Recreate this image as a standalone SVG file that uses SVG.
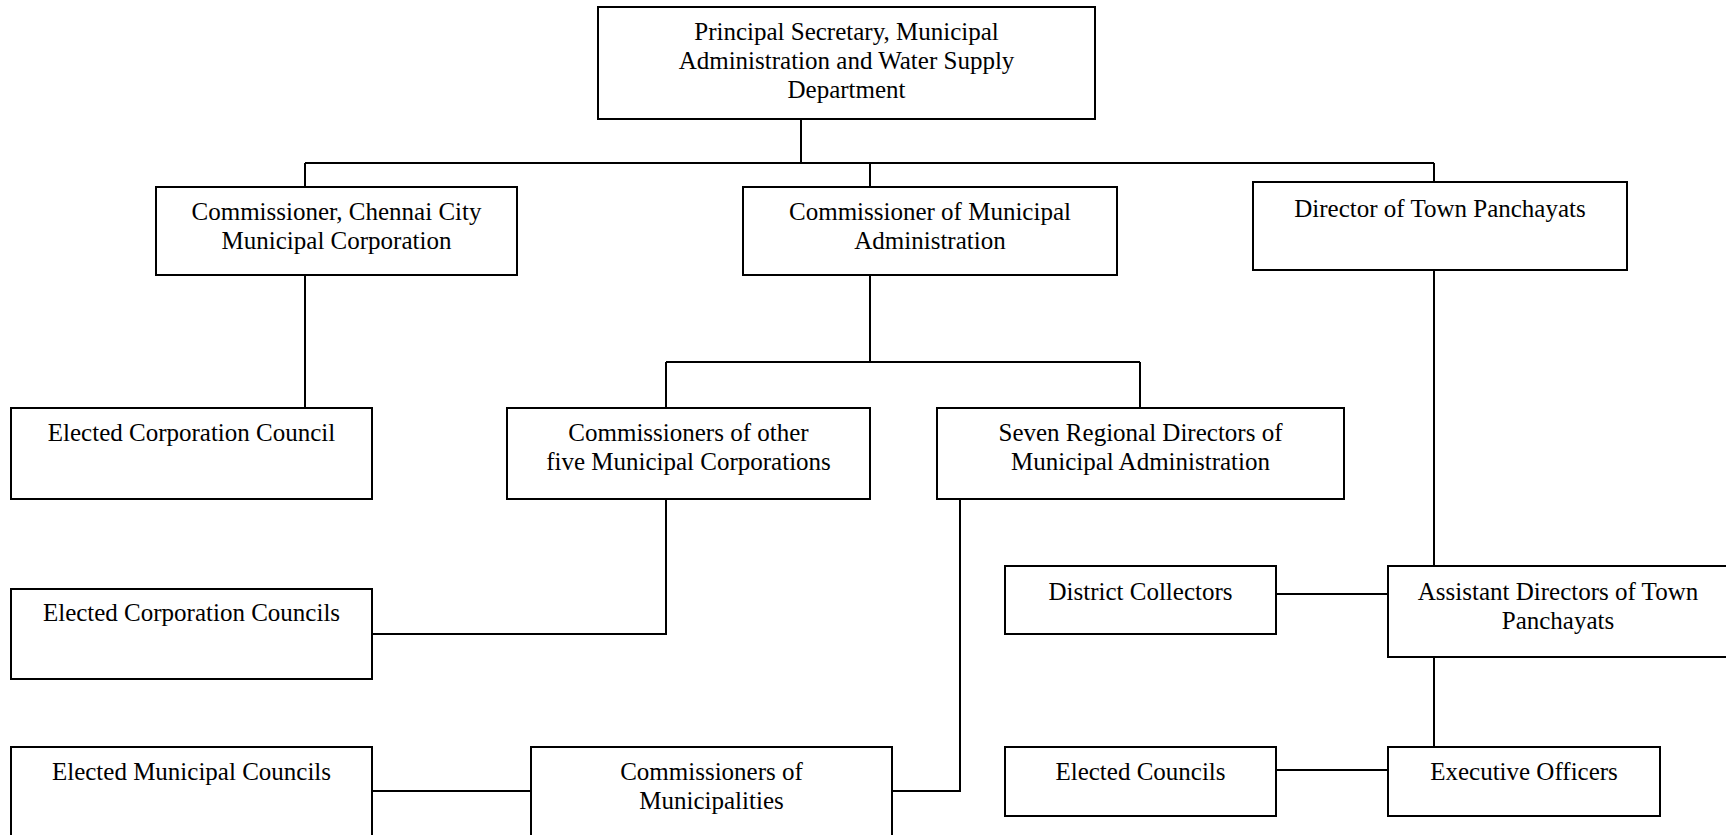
<svg xmlns="http://www.w3.org/2000/svg" width="1726" height="835" viewBox="0 0 1726 835">
<style>
.box{fill:#fff;stroke:#000;stroke-width:2}
.ln{fill:none;stroke:#000;stroke-width:2}
text{font-family:"Liberation Serif","Times New Roman",serif;font-size:25px;fill:#000;text-anchor:middle}
</style>
<rect width="1726" height="835" fill="#fff"/>
<g id="connectors">
<path class="ln" d="M801 119V163M305 163H1434M305 163V187M870 163V187M1434 163V182"/>
<path class="ln" d="M305 275V408"/>
<path class="ln" d="M870 275V362M666 362H1140M666 362V408M1140 362V408"/>
<path class="ln" d="M666 499V634H372"/>
<path class="ln" d="M960 499V791H892"/>
<path class="ln" d="M372 791H531"/>
<path class="ln" d="M1434 270V566"/>
<path class="ln" d="M1276 594H1388"/>
<path class="ln" d="M1434 657V747"/>
<path class="ln" d="M1276 770H1388"/>
</g>
<g id="n-principal"><rect class="box" x="598" y="7" width="497" height="112"/>
<text x="846.5" y="40">Principal Secretary, Municipal</text>
<text x="846.5" y="69">Administration and Water Supply</text>
<text x="846.5" y="98">Department</text></g>
<g id="n-chennai"><rect class="box" x="156" y="187" width="361" height="88"/>
<text x="336.5" y="220">Commissioner, Chennai City</text>
<text x="336.5" y="249">Municipal Corporation</text></g>
<g id="n-cma"><rect class="box" x="743" y="187" width="374" height="88"/>
<text x="930" y="220">Commissioner of Municipal</text>
<text x="930" y="249">Administration</text></g>
<g id="n-director"><rect class="box" x="1253" y="182" width="374" height="88"/>
<text x="1440" y="217">Director of Town Panchayats</text></g>
<g id="n-ecc"><rect class="box" x="11" y="408" width="361" height="91"/>
<text x="191.5" y="441">Elected Corporation Council</text></g>
<g id="n-other5"><rect class="box" x="507" y="408" width="363" height="91"/>
<text x="688.5" y="441">Commissioners of other</text>
<text x="688.5" y="470">five Municipal Corporations</text></g>
<g id="n-regional"><rect class="box" x="937" y="408" width="407" height="91"/>
<text x="1140.5" y="441">Seven Regional Directors of</text>
<text x="1140.5" y="470">Municipal Administration</text></g>
<g id="n-eccs"><rect class="box" x="11" y="589" width="361" height="90"/>
<text x="191.5" y="621">Elected Corporation Councils</text></g>
<g id="n-collectors"><rect class="box" x="1005" y="566" width="271" height="68"/>
<text x="1140.5" y="600">District Collectors</text></g>
<g id="n-asstdir"><rect class="box" x="1388" y="566" width="340" height="91"/>
<text x="1558" y="600">Assistant Directors of Town</text>
<text x="1558" y="629">Panchayats</text></g>
<g id="n-emc"><rect class="box" x="11" y="747" width="361" height="100"/>
<text x="191.5" y="780">Elected Municipal Councils</text></g>
<g id="n-commun"><rect class="box" x="531" y="747" width="361" height="100"/>
<text x="711.5" y="780">Commissioners of</text>
<text x="711.5" y="809">Municipalities</text></g>
<g id="n-ec"><rect class="box" x="1005" y="747" width="271" height="69"/>
<text x="1140.5" y="780">Elected Councils</text></g>
<g id="n-eo"><rect class="box" x="1388" y="747" width="272" height="69"/>
<text x="1524" y="780">Executive Officers</text></g>
</svg>
